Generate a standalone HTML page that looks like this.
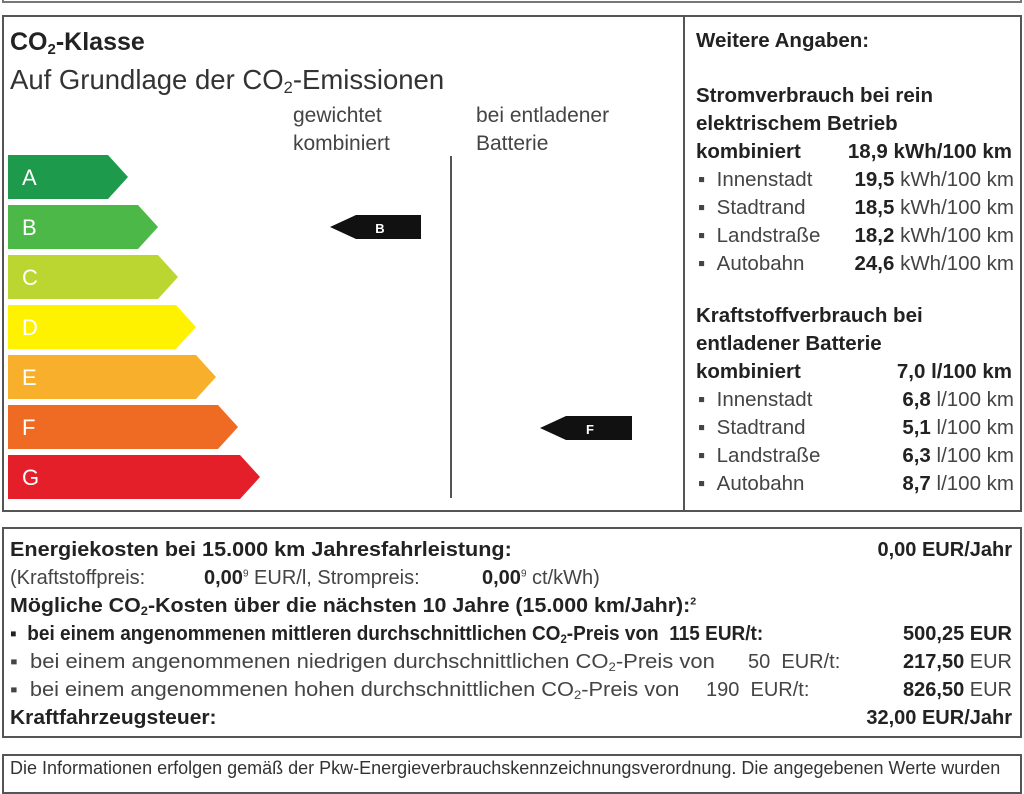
<!DOCTYPE html>
<html><head><meta charset="utf-8"><style>
body{margin:0;width:1024px;height:768px;background:#fff;position:relative;overflow:hidden;font-family:"Liberation Sans",sans-serif;color:#222}
.a{position:absolute;white-space:nowrap}
.box{position:absolute;border:2px solid #555;box-sizing:border-box}
.r{font-size:20.5px;line-height:28px}
.b{font-weight:bold}
.g{color:#444}
sub{font-size:0.6em;vertical-align:-0.25em;line-height:0}
sup{line-height:0}
.lr{position:absolute;white-space:nowrap;text-align:right}
.t{font-size:20px;line-height:28px;transform-origin:left center}
</style></head><body>
<div class="box" style="left:2px;top:-10px;width:1020px;height:13px;border-color:#777"></div>
<div class="box" style="left:2px;top:15px;width:1020px;height:497px"></div>
<div class="a" style="left:683px;top:15px;width:2px;height:497px;background:#555"></div>
<div class="a b" style="left:10px;top:28px;font-size:25px">CO<sub>2</sub>-Klasse</div>
<div class="a" style="left:10px;top:64px;font-size:27.5px;color:#333">Auf Grundlage der CO<sub>2</sub>-Emissionen</div>
<div class="a g" style="left:293px;top:102px;font-size:21px;line-height:28px">gewichtet<br>kombiniert</div>
<div class="a g" style="left:476px;top:102px;font-size:21px;line-height:28px">bei entladener<br>Batterie</div>
<div class="a" style="left:450px;top:156px;width:2px;height:342px;background:#555"></div>
<svg class="a" style="left:0;top:0" width="680" height="512">
<polygon points="8,155 108,155 128,177 108,199 8,199" fill="#1d9a4c"/>
<polygon points="8,205 138,205 158,227 138,249 8,249" fill="#4cb847"/>
<polygon points="8,255 158,255 178,277 158,299 8,299" fill="#bcd631"/>
<polygon points="8,305 176,305 196,327 176,349 8,349" fill="#fff200"/>
<polygon points="8,355 196,355 216,377 196,399 8,399" fill="#f8b02c"/>
<polygon points="8,405 218,405 238,427 218,449 8,449" fill="#ef6b24"/>
<polygon points="8,455 240,455 260,477 240,499 8,499" fill="#e41f2a"/>
<g fill="#fff" font-family="Liberation Sans" font-size="22">
<text x="22" y="185">A</text><text x="22" y="235">B</text><text x="22" y="285">C</text><text x="22" y="335">D</text><text x="22" y="385">E</text><text x="22" y="435">F</text><text x="22" y="485">G</text></g>
<polygon points="330,227 356,215 421,215 421,239 356,239" fill="#111"/>
<text x="380" y="233" fill="#fff" font-family="Liberation Sans" font-weight="bold" font-size="13" text-anchor="middle">B</text>
<polygon points="540,428 566,416 632,416 632,440 566,440" fill="#111"/>
<text x="590" y="434" fill="#fff" font-family="Liberation Sans" font-weight="bold" font-size="13" text-anchor="middle">F</text>
</svg>
<div class="a r b" style="left:696px;top:27px">Weitere Angaben:</div>
<div class="a r b" style="left:696px;top:82px">Stromverbrauch bei rein<br>elektrischem Betrieb<br>kombiniert</div>
<div class="lr r b" style="right:12px;top:138px">18,9 kWh/100 km</div>
<div class="a r g" style="left:698px;top:166px">▪&nbsp;&nbsp;Innenstadt<br>▪&nbsp;&nbsp;Stadtrand<br>▪&nbsp;&nbsp;Landstraße<br>▪&nbsp;&nbsp;Autobahn</div>
<div class="lr r g" style="right:10px;top:166px"><b style="color:#222">19,5</b> kWh/100 km<br><b style="color:#222">18,5</b> kWh/100 km<br><b style="color:#222">18,2</b> kWh/100 km<br><b style="color:#222">24,6</b> kWh/100 km</div>
<div class="a r b" style="left:696px;top:302px">Kraftstoffverbrauch bei<br>entladener Batterie<br>kombiniert</div>
<div class="lr r b" style="right:12px;top:358px">7,0 l/100 km</div>
<div class="a r g" style="left:698px;top:386px">▪&nbsp;&nbsp;Innenstadt<br>▪&nbsp;&nbsp;Stadtrand<br>▪&nbsp;&nbsp;Landstraße<br>▪&nbsp;&nbsp;Autobahn</div>
<div class="lr r g" style="right:10px;top:386px"><b style="color:#222">6,8</b> l/100 km<br><b style="color:#222">5,1</b> l/100 km<br><b style="color:#222">6,3</b> l/100 km<br><b style="color:#222">8,7</b> l/100 km</div>

<div class="box" style="left:2px;top:527px;width:1020px;height:211px"></div>
<div class="a b t" style="left:10px;top:536px;transform:scaleX(1.08)">Energiekosten bei 15.000 km Jahresfahrleistung:</div>
<div class="lr b t" style="right:12px;top:536px">0,00 EUR/Jahr</div>
<div class="a g t" style="left:10px;top:564px">(Kraftstoffpreis:</div>
<div class="a g t" style="left:204px;top:564px"><b style="color:#222">0,00</b><sup style="font-size:10px">9</sup> EUR/l, Strompreis:</div>
<div class="a g t" style="left:482px;top:564px"><b style="color:#222">0,00</b><sup style="font-size:10px">9</sup> ct/kWh)</div>
<div class="a b t" style="left:10px;top:592px;transform:scaleX(1.07)">Mögliche CO<sub>2</sub>-Kosten über die nächsten 10 Jahre (15.000 km/Jahr):<sup style="font-size:10px">2</sup></div>
<div class="a b t" style="left:10px;top:620px;transform:scaleX(0.95)">▪&nbsp;&nbsp;bei einem angenommenen mittleren durchschnittlichen CO<sub>2</sub>-Preis von&nbsp; 115 EUR/t:</div>
<div class="a g t" style="left:10px;top:648px;transform:scaleX(1.1)">▪&nbsp;&nbsp;bei einem angenommenen niedrigen durchschnittlichen CO<sub>2</sub>-Preis von</div>
<div class="a g t" style="left:748px;top:648px">50&nbsp; EUR/t:</div>
<div class="a g t" style="left:10px;top:676px;transform:scaleX(1.09)">▪&nbsp;&nbsp;bei einem angenommenen hohen durchschnittlichen CO<sub>2</sub>-Preis von</div>
<div class="a g t" style="left:706px;top:676px">190&nbsp; EUR/t:</div>
<div class="lr b t" style="right:12px;top:620px">500,25 EUR</div>
<div class="lr g t" style="right:12px;top:648px"><b style="color:#222">217,50</b> EUR</div>
<div class="lr g t" style="right:12px;top:676px"><b style="color:#222">826,50</b> EUR</div>
<div class="a b t" style="left:10px;top:704px;transform:scaleX(1.05)">Kraftfahrzeugsteuer:</div>
<div class="lr b t" style="right:12px;top:704px">32,00 EUR/Jahr</div>

<div class="box" style="left:2px;top:754px;width:1020px;height:40px"></div>
<div class="a" style="left:10px;top:758px;font-size:18px;color:#333">Die Informationen erfolgen gemäß der Pkw-Energieverbrauchskennzeichnungsverordnung. Die angegebenen Werte wurden</div>
</body></html>
